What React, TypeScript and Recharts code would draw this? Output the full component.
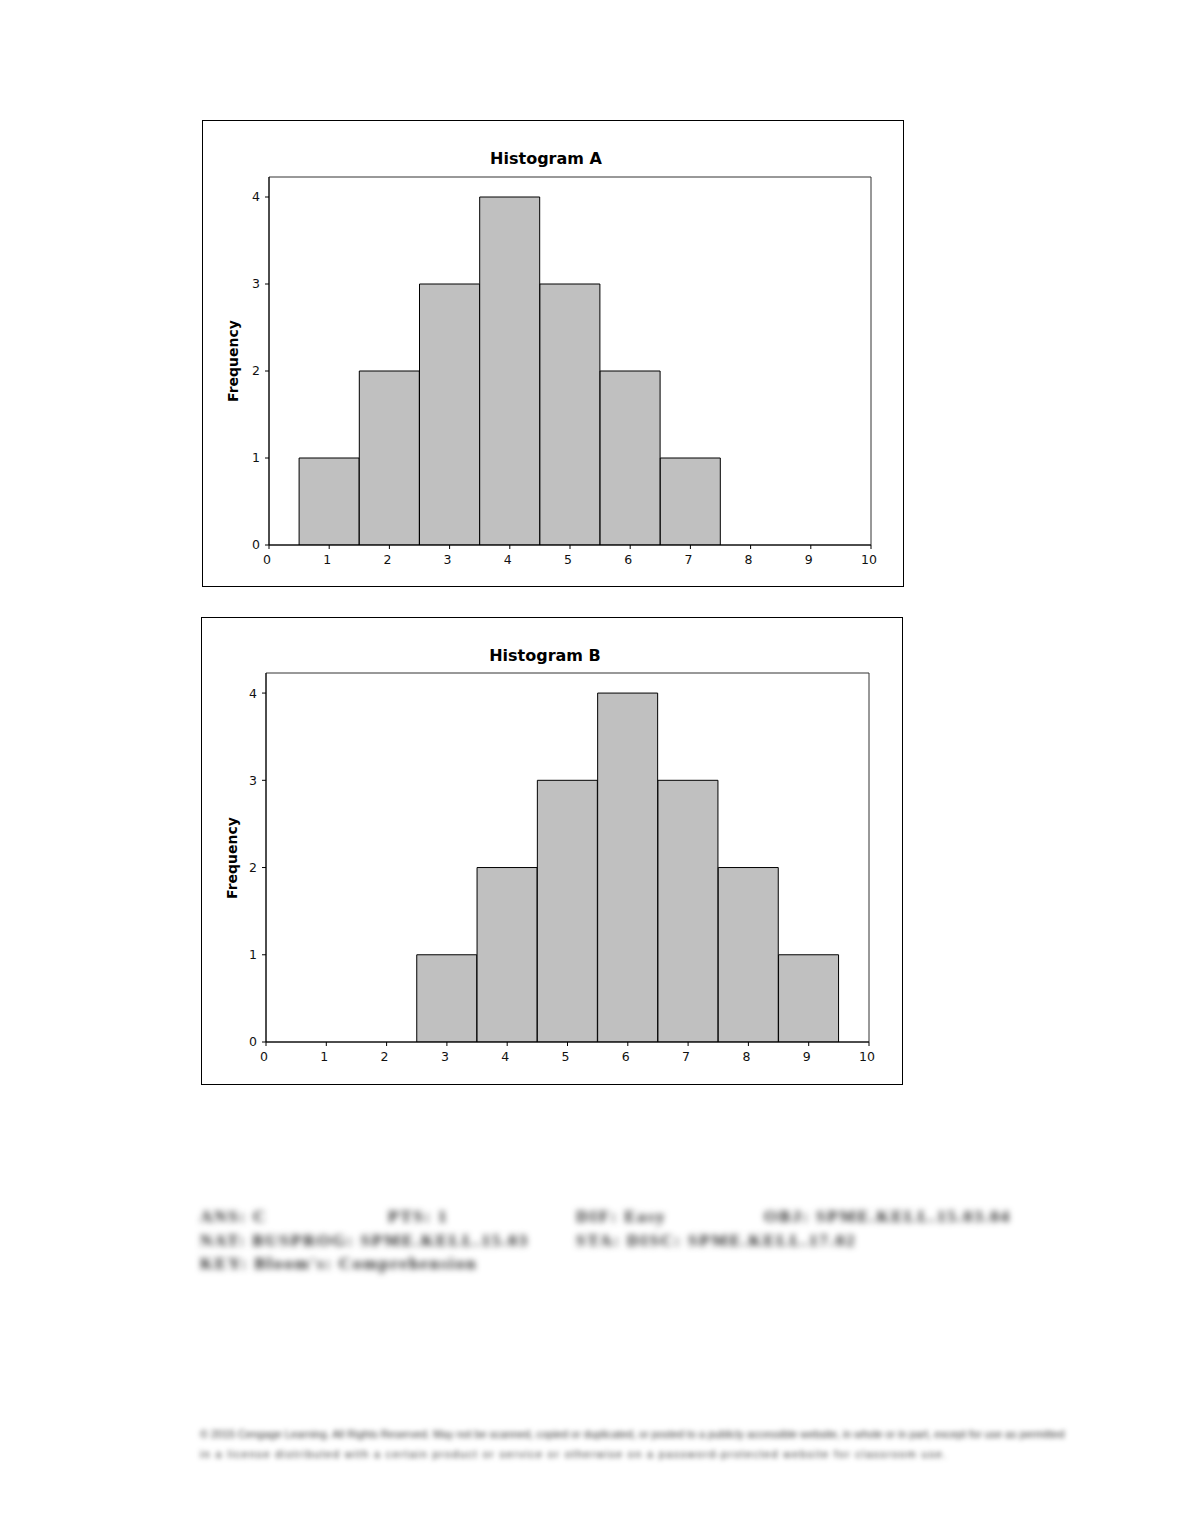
import React from 'react';
import { BarChart, Bar, XAxis, YAxis, ReferenceArea } from 'recharts';

// bin centres (1..10) and frequencies
const binsA = [1, 2, 3, 4, 5, 6, 7];
const freqA = [1, 2, 3, 4, 3, 2, 1];
const binsB = [3, 4, 5, 6, 7, 8, 9];
const freqB = [1, 2, 3, 4, 3, 2, 1];
const xTicks = [0, 1, 2, 3, 4, 5, 6, 7, 8, 9, 10];
const yTicks = [0, 1, 2, 3, 4];
const Y_MAX = 4.23;

const FONT = '"DejaVu Sans", Verdana, sans-serif';

const answerLines = [
  ['ANS:  C', 'PTS:  1', 'DIF:  Easy', 'OBJ:  SPME.KELL.15.03.04'],
  ['NAT:  BUSPROG: SPME.KELL.15.03', '', 'STA:  DISC: SPME.KELL.17.02', ''],
  ["KEY:  Bloom's: Comprehension", '', '', ''],
];
const footer = [
  '© 2015 Cengage Learning. All Rights Reserved. May not be scanned, copied or duplicated, or posted to a publicly accessible website, in whole or in part, except for use as permitted',
  'in a license distributed with a certain product or service or otherwise on a password-protected website for classroom use.',
];

type Props = {
  title: string; bins: number[]; freq: number[];
  left: number; top: number; height: number;
  plotLeft: number; plotRight: number; plotTop: number;
};

function Histogram({ title, bins, freq, left, top, height, plotLeft, plotRight, plotTop }: Props) {
  const data = bins.map((b, i) => ({ bin: b, freq: freq[i] }));
  const tick = { fill: '#111', fontSize: 12.5, fontFamily: FONT };
  return (
    <div style={{ position: 'absolute', left, top, width: 702, height, border: '1px solid #000', boxSizing: 'border-box', background: '#fff' }}>
      <div style={{ position: 'absolute', left: 343, top: 37, width: 0, height: 0 }}>
        <div style={{ position: 'absolute', transform: 'translate(-50%, -50%)', fontFamily: FONT, fontWeight: 'bold', fontSize: 16, whiteSpace: 'nowrap' }}>
          {title}
        </div>
      </div>
      <div style={{ position: 'absolute', left: 30, top: 240, width: 0, height: 0 }}>
        <div style={{ position: 'absolute', transform: 'translate(-50%, -50%) rotate(-90deg)', fontFamily: FONT, fontWeight: 'bold', fontSize: 14, whiteSpace: 'nowrap' }}>
          Frequency
        </div>
      </div>
      <div style={{ position: 'absolute', left: -1, top: -1 }}>
        <BarChart width={702} height={height} data={data} barCategoryGap={0} barGap={0}
          margin={{ top: plotTop, right: 702 - plotRight, bottom: height - 425 - 30, left: plotLeft - 40 }}>
          <ReferenceArea x1={0} x2={10} y1={0} y2={Y_MAX} fill="#fff" fillOpacity={0} stroke="#333" strokeWidth={1} ifOverflow="visible" />
          <XAxis dataKey="bin" type="number" domain={[0, 10]} ticks={xTicks} interval={0} allowDataOverflow
            tick={{ ...tick, dx: -2 }} tickSize={4} tickMargin={6} stroke="#000" height={30} />
          <YAxis type="number" domain={[0, Y_MAX]} ticks={yTicks} interval={0} allowDataOverflow
            tick={tick} tickSize={4} tickMargin={5} stroke="#000" width={40} />
          <Bar dataKey="freq" fill="#c0c0c0" stroke="#000" strokeWidth={1} isAnimationActive={false} />
        </BarChart>
      </div>
    </div>
  );
}

export default function App() {
  return (
    <div style={{ position: 'absolute', left: 0, top: 0, width: 1180, height: 1527, background: '#fff', overflow: 'hidden' }}>
      <Histogram title="Histogram A" bins={binsA} freq={freqA} left={202} top={120} height={467}
        plotLeft={67} plotRight={669} plotTop={57} />
      <Histogram title="Histogram B" bins={binsB} freq={freqB} left={201} top={617} height={468}
        plotLeft={65} plotRight={668} plotTop={56} />
      <div style={{ position: 'absolute', left: 200, top: 1205, filter: 'blur(3px)', fontFamily: '"Liberation Serif", serif', fontSize: 17, fontWeight: 'bold', color: '#222', lineHeight: '23.5px', letterSpacing: 1.8 }}>
        {answerLines.map((row, i) => (
          <div key={i} style={{ display: 'flex', whiteSpace: 'nowrap' }}>
            {row.map((c, j) => (
              <span key={j} style={{ width: j === 3 ? 'auto' : 188, display: 'inline-block', overflow: 'visible' }}>{c}</span>
            ))}
          </div>
        ))}
      </div>
      <div style={{ position: 'absolute', left: 200, top: 1424, filter: 'blur(2.5px)', fontFamily: '"Liberation Sans", sans-serif', fontSize: 10.8, color: '#333', lineHeight: '20px', whiteSpace: 'nowrap' }}>
        {footer.map((l, i) => (
          <div key={i} style={{ letterSpacing: i === 0 ? 0 : 1.4 }}>{l}</div>
        ))}
      </div>
    </div>
  );
}
